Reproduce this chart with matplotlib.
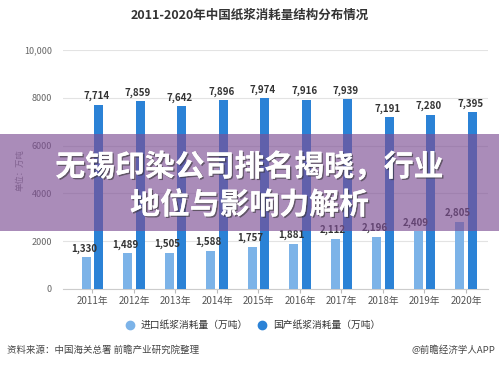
import matplotlib.pyplot as plt
import numpy as np
from matplotlib.patches import Rectangle
import matplotlib.patheffects as pe

plt.rcParams['font.family'] = ['Noto Sans CJK SC', 'DejaVu Sans']

years = ['2011年', '2012年', '2013年', '2014年', '2015年',
         '2016年', '2017年', '2018年', '2019年', '2020年']
imported = [1330, 1489, 1505, 1588, 1757, 1881, 2112, 2196, 2409, 2805]
domestic = [7714, 7859, 7642, 7896, 7974, 7916, 7939, 7191, 7280, 7395]
yticks = [0, 2000, 4000, 6000, 8000, 10000]
ytick_labels = ['0', '2000', '4000', '6000', '8000', '10,000']

light = '#7cb3e8'
dark = '#2b82d6'

W, H = 499, 367
fig = plt.figure(figsize=(W / 100, H / 100), dpi=100)

# axes placed in pixel terms
x0, x1 = 63, 488
ytop, ybot = 50, 289
ax = fig.add_axes([x0 / W, (H - ybot) / H, (x1 - x0) / W, (ybot - ytop) / H])

x = np.arange(len(years))
bw = 0.22
off = 0.15
ax.bar(x - off, imported, bw, color=light, zorder=3)
ax.bar(x + off, domestic, bw, color=dark, zorder=3)

for i in range(len(years)):
    ax.text(x[i] - off - 0.05, imported[i] + 150, f'{imported[i]:,}', ha='center', va='bottom',
            fontsize=7, fontweight='bold', color='#333333', zorder=4)
    ax.text(x[i] + off - 0.05, domestic[i] + 150, f'{domestic[i]:,}', ha='center', va='bottom',
            fontsize=7, fontweight='bold', color='#333333', zorder=4)

ax.set_xlim(-0.71, 9.53)
ax.set_ylim(0, 10000)
ax.set_yticks(yticks)
ax.set_yticklabels(ytick_labels, fontsize=6.5, color='#666666')
ax.set_xticks(x)
ax.set_xticklabels(years, fontsize=7, color='#555555')
ax.tick_params(axis='y', length=0, pad=8)
ax.tick_params(axis='x', length=3, color='#bbbbbb', pad=2)
ax.grid(axis='y', color='#e3e3e3', linewidth=0.8, zorder=0)
for s in ['top', 'right', 'left']:
    ax.spines[s].set_visible(False)
ax.spines['bottom'].set_color('#cccccc')

fig.text(20 / W, 1 - 170 / H, '单位：万吨', rotation=90, ha='center', va='center',
         fontsize=6, color='#888888')

fig.text(0.5, 1 - 15 / H, '2011-2020年中国纸浆消耗量结构分布情况', ha='center', va='center',
         fontsize=9, fontweight='bold', color='#333333')

# legend
ly = 1 - 325 / H
fig.lines.append(plt.Line2D([130 / W], [ly], marker='o', markersize=6, color=light,
                            linestyle='none', transform=fig.transFigure))
fig.text(141 / W, ly, '进口纸浆消耗量（万吨）', ha='left', va='center', fontsize=7, color='#333333')
fig.lines.append(plt.Line2D([262 / W], [ly], marker='o', markersize=6, color=dark,
                            linestyle='none', transform=fig.transFigure))
fig.text(273 / W, ly, '国产纸浆消耗量（万吨）', ha='left', va='center', fontsize=7, color='#333333')

fig.text(7 / W, 1 - 350 / H, '资料来源：中国海关总署 前瞻产业研究院整理', ha='left', va='center',
         fontsize=6.8, color='#444444')
fig.text(495 / W, 1 - 350 / H, '@前瞻经济学人APP', ha='right', va='center',
         fontsize=6.8, color='#444444')

# purple banner overlay
bt, bb = 134, 231
fig.patches.append(Rectangle((0, 1 - bb / H), 1, (bb - bt) / H, transform=fig.transFigure,
                             facecolor=(125 / 255, 78 / 255, 148 / 255), alpha=0.65,
                             edgecolor='none', zorder=10))
shadow = [pe.withSimplePatchShadow(offset=(1, -1), shadow_rgbFace='#333333', alpha=0.6), pe.Normal()]
fig.text(0.5, 1 - 167 / H, '无锡印染公司排名揭晓，行业', ha='center', va='center',
         fontsize=21.5, fontweight='bold', color='white', zorder=11, path_effects=shadow)
fig.text(0.5, 1 - 205 / H, '地位与影响力解析', ha='center', va='center',
         fontsize=21.5, fontweight='bold', color='white', zorder=11, path_effects=shadow)

fig.savefig('out.png', dpi=100)
